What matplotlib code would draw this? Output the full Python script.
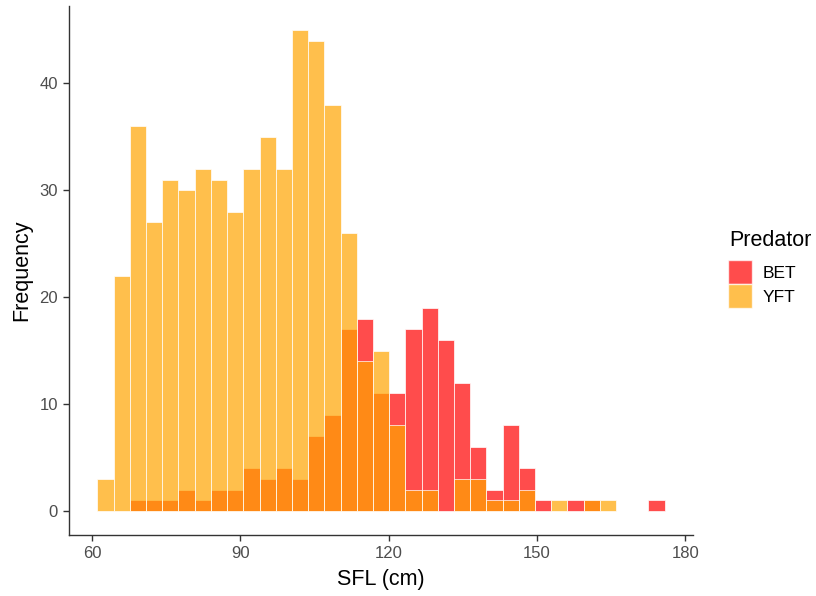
import numpy as np
import matplotlib
matplotlib.use("Agg")
import matplotlib.pyplot as plt
from matplotlib.patches import Patch

plt.rcParams['font.family'] = ['Liberation Sans', 'DejaVu Sans']

# histogram counts per 3.28 cm bin of straight fork length
bin_start = 61.1
bin_width = 3.277
bet_counts = [0, 0, 1, 1, 1, 2, 1, 2, 2, 4, 3, 4, 3, 7, 9, 17, 18, 11,
              11, 17, 19, 16, 12, 6, 2, 8, 4, 1, 0, 1, 1, 0, 0, 0, 1]
yft_counts = [3, 22, 36, 27, 31, 30, 32, 31, 28, 32, 35, 32, 45, 44, 38, 26, 14, 15,
              8, 2, 2, 0, 3, 3, 1, 1, 2, 0, 1, 0, 1, 1, 0, 0, 0]
species = ['BET', 'YFT']
colors = {'BET': 'red', 'YFT': 'orange'}
x_ticks = [60, 90, 120, 150, 180]
y_ticks = [0, 10, 20, 30, 40]

lefts = bin_start + bin_width * np.arange(len(bet_counts))

fig = plt.figure(figsize=(8.16, 5.96), dpi=100)
ax = fig.add_axes([0.0846, 0.1023, 0.7645, 0.8877])

for name, counts in zip(species, [bet_counts, yft_counts]):
    counts = np.array(counts)
    keep = counts > 0
    ax.bar(lefts[keep], counts[keep], width=bin_width, align='edge',
           color=colors[name], alpha=0.7, edgecolor='white', linewidth=0.7)

ax.set_xlim(55.35, 181.5)
ax.set_ylim(-2.25, 47.25)
ax.set_xticks(x_ticks)
ax.set_yticks(y_ticks)

for side in ['top', 'right']:
    ax.spines[side].set_visible(False)
for side in ['left', 'bottom']:
    ax.spines[side].set_color('#333333')
    ax.spines[side].set_linewidth(1.0)

ax.tick_params(axis='both', length=4, width=1.0, color='#333333',
               labelsize=12, labelcolor='#4d4d4d', pad=4)

ax.set_xlabel('SFL (cm)', fontsize=15.5, labelpad=6)
ax.set_ylabel('Frequency', fontsize=15.5, labelpad=5)

# legend: title as its own text, keys below it
fig.text(729 / 816, 1 - 241 / 596, 'Predator', fontsize=15.5,
         ha='left', va='center')
handles = [Patch(facecolor=colors[s], edgecolor='white', alpha=0.7, label=s)
           for s in species]
fig.legend(handles=handles, loc='upper left',
           bbox_to_anchor=(728 / 816, 1 - 260 / 596), frameon=False,
           fontsize=12.5, handlelength=1.4, handleheight=1.75,
           labelspacing=0.02, handletextpad=0.6,
           borderaxespad=0, borderpad=0)

fig.savefig('out.png', dpi=100)
